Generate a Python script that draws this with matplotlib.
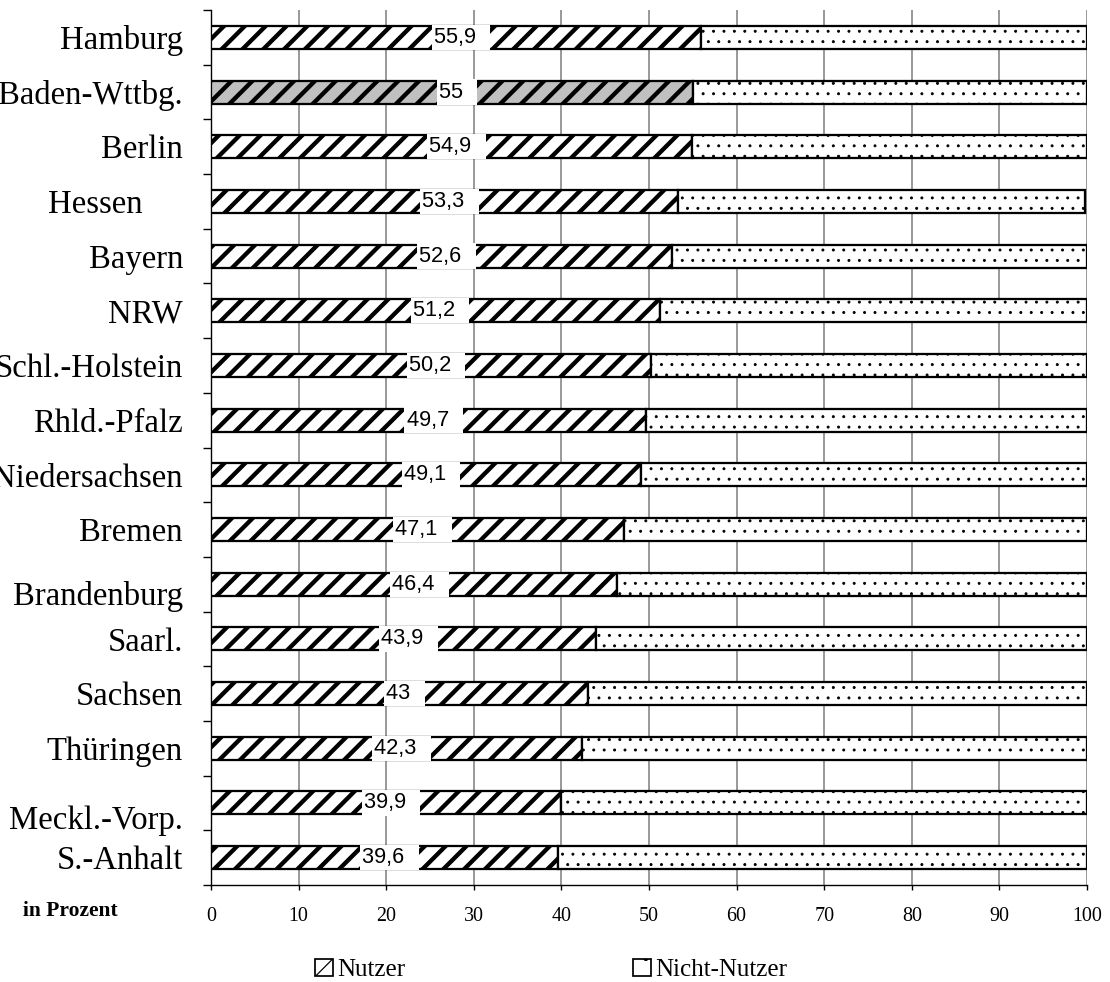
import matplotlib
matplotlib.use("Agg")
import matplotlib.pyplot as plt
import matplotlib.transforms as mtransforms
from matplotlib.patches import Patch
import numpy as np

regions = ['Hamburg', 'Baden-Wttbg.', 'Berlin', 'Hessen', 'Bayern', 'NRW',
           'Schl.-Holstein', 'Rhld.-Pfalz', 'Niedersachsen', 'Bremen',
           'Brandenburg', 'Saarl.', 'Sachsen', 'Thüringen', 'Meckl.-Vorp.',
           'S.-Anhalt']
nutzer = [55.9, 55.0, 54.9, 53.3, 52.6, 51.2, 50.2, 49.7, 49.1, 47.1,
          46.4, 43.9, 43.0, 42.3, 39.9, 39.6]
nicht_nutzer = [44.1, 45.0, 45.1, 46.5, 47.4, 48.8, 49.8, 50.3, 50.9, 52.9,
                53.6, 56.1, 57.0, 57.7, 60.1, 60.4]
labels = ['55,9', '55', '54,9', '53,3', '52,6', '51,2', '50,2', '49,7',
          '49,1', '47,1', '46,4', '43,9', '43', '42,3', '39,9', '39,6']
xticks = [0, 10, 20, 30, 40, 50, 60, 70, 80, 90, 100]

DPI = 125
PX = 72 / DPI  # one pixel in points

serif = ['Liberation Serif', 'DejaVu Serif']
sans = ['Liberation Sans', 'DejaVu Sans']

fig = plt.figure(figsize=(1110 / DPI, 982 / DPI), dpi=DPI)
ax = fig.add_axes([211 / 1110, 1 - 885 / 982, 876 / 1110, 875 / 982])

y = np.arange(len(regions))
h = 0.42

# Nutzer: dicke schwarze Schraffur, Baden-Wttbg. grau hinterlegt
plt.rcParams['hatch.linewidth'] = 2.5
faces = ['#c0c0c0' if r == 'Baden-Wttbg.' else 'white' for r in regions]
ax.barh(y, nutzer, height=h, color=faces, edgecolor='black', linewidth=1.3,
        hatch='//', zorder=3)

# Nicht-Nutzer: feines Punktraster
plt.rcParams['hatch.linewidth'] = 0.5
ax.barh(y, nicht_nutzer, left=nutzer, height=h, color='white',
        edgecolor='black', linewidth=1.3, hatch='..', zorder=3)

# Wertbeschriftung mittig im Nutzer-Balken
for yi, v, lbl in zip(y, nutzer, labels):
    ax.annotate(lbl + '  ', xy=(v / 2, yi), xytext=(5 * PX, 0),
                textcoords='offset points', ha='center', va='center',
                fontsize=12.5, family=sans, zorder=5,
                bbox=dict(boxstyle='square,pad=0.1', fc='white', ec='none'))

ax.set_xlim(0, 100)
ax.set_ylim(len(regions) - 0.5, -0.5)
ax.set_xticks(xticks)
ax.set_xticklabels([str(t) for t in xticks], family=serif, fontsize=11.5)
ax.set_yticks(y)
ax.set_yticklabels(regions, family=serif, fontsize=18.9)
ax.set_yticks(np.arange(len(regions) + 1) - 0.5, minor=True)
ax.tick_params(axis='y', which='major', length=0, pad=28 * PX)
ax.tick_params(axis='y', which='minor', length=8 * PX, width=0.8,
               direction='out')
ax.tick_params(axis='x', length=5 * PX, width=0.8, direction='out',
               pad=10)

ax.grid(axis='x', color='#808080', linewidth=0.9)
ax.set_axisbelow(True)
for s in ['top', 'right']:
    ax.spines[s].set_visible(False)
for s in ['left', 'bottom']:
    ax.spines[s].set_linewidth(0.8)

# einzelne Beschriftungen leicht versetzt
shifts = {'Hessen': (-40, 0), 'Brandenburg': (0, -9), 'Meckl.-Vorp.': (0, -14)}
for tl in ax.get_yticklabels():
    if tl.get_text() in shifts:
        dx, dy = shifts[tl.get_text()]
        tl.set_transform(tl.get_transform() + mtransforms.ScaledTranslation(
            dx / DPI, dy / DPI, fig.dpi_scale_trans))

fig.text(23 / 1110, 1 - 911 / 982, 'in Prozent', family=serif,
         fontweight='bold', fontsize=12.4, ha='left', va='center')

plt.rcParams['hatch.linewidth'] = 3.0
h_nutzer = Patch(facecolor='white', edgecolor='black', hatch='//', linewidth=1)
plt.rcParams['hatch.linewidth'] = 0.7
h_nicht = Patch(facecolor='white', edgecolor='black', hatch='.', linewidth=1)
fig.legend([h_nutzer, h_nicht], ['Nutzer', 'Nicht-Nutzer'], ncol=2,
           loc='center left', bbox_to_anchor=(315 / 1110, 1 - 970 / 982),
           frameon=False, prop={'family': serif, 'size': 14.4},
           handlelength=0.7, handleheight=0.7, handletextpad=0.2,
           columnspacing=9.1, borderpad=0, borderaxespad=0)

fig.savefig('out.png', dpi=DPI)
